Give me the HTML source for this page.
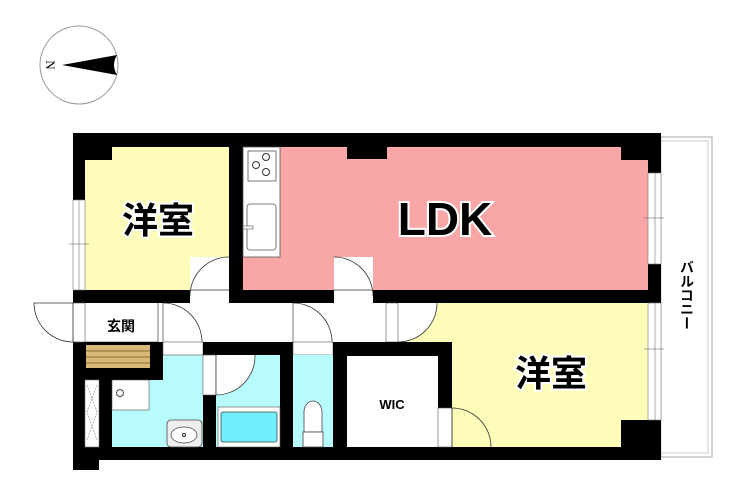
<!DOCTYPE html>
<html><head><meta charset="utf-8"><style>
body{margin:0;background:#fff;}
svg text{font-family:"Liberation Sans","Noto Sans CJK JP",sans-serif;font-weight:bold;}
</style></head><body>
<svg width="740" height="489" viewBox="0 0 740 489" xmlns="http://www.w3.org/2000/svg">
<!-- compass -->
<circle cx="79" cy="65" r="39" fill="#fff" stroke="#999" stroke-width="1"/>
<path d="M62 65 L117 55 Q111 65 117 75 Z" fill="#000"/>
<text x="49" y="65" font-size="13" transform="rotate(90 49 65)" text-anchor="middle" dominant-baseline="middle" style="font-weight:normal;font-family:'Liberation Serif',serif">N</text>
<!-- balcony -->
<rect x="661" y="137" width="51" height="320" fill="#fff" stroke="#aaa"/>
<rect x="661" y="141" width="47" height="312" fill="none" stroke="#ccc"/>
<!-- outer black -->
<rect x="73" y="133" width="588" height="327" fill="#000"/>
<rect x="73" y="455" width="26" height="15" fill="#000"/>
<!-- rooms -->
<rect x="85" y="147" width="144" height="143" fill="#fdfcb8"/>
<rect x="85" y="147" width="27" height="13" fill="#000"/>
<rect x="243" y="147" width="405" height="143" fill="#f8a6a6"/>
<rect x="347" y="147" width="40" height="12" fill="#000"/>
<rect x="621" y="147" width="27" height="13" fill="#000"/>
<!-- kitchen -->
<rect x="243" y="147" width="37" height="110" fill="#fff" stroke="#555" stroke-width="0.8"/>
<rect x="248" y="151" width="28" height="30" fill="#fff" stroke="#555" stroke-width="0.8"/>
<circle cx="256" cy="165" r="3.5" fill="none" stroke="#333"/>
<circle cx="266" cy="157" r="3.5" fill="none" stroke="#333"/>
<circle cx="266" cy="172" r="3.5" fill="none" stroke="#333"/>
<rect x="247" y="204" width="29" height="46" rx="3" fill="#fff" stroke="#555" stroke-width="0.8"/>
<rect x="243" y="226" width="10" height="3" fill="#fff" stroke="#555" stroke-width="0.6"/>
<!-- hallway -->
<rect x="85" y="303" width="355" height="39" fill="#fff"/>
<rect x="73" y="303" width="12" height="39" fill="#fff" stroke="#555" stroke-width="0.6"/>
<path d="M73 303 L73 342 M73 342 A39 39 0 0 1 34 303 L73 303" fill="#fff" stroke="#333" stroke-width="0.8"/>
<line x1="158" y1="303" x2="158" y2="342" stroke="#555" stroke-width="0.8"/>
<line x1="85" y1="342" x2="158" y2="342" stroke="#555" stroke-width="0.8"/>
<!-- lower yellow room -->
<rect x="437" y="303" width="211" height="144" fill="#fdfcb8"/>
<path d="M400 342 L437 342 L437 303 A39 39 0 0 1 400 342 Z" fill="#fdfcb8"/>
<rect x="621" y="420" width="27" height="27" fill="#000"/>
<!-- doors between hall and rooms -->
<rect x="190" y="257" width="39" height="46" fill="#fff"/>
<path d="M229 257 A39 39 0 0 0 190 296 L190 290 M190 290 L229 290" fill="none" stroke="#333" stroke-width="0.8"/>
<rect x="334" y="257" width="39" height="46" fill="#fff"/>
<path d="M334 257 A39 39 0 0 1 373 296 M334 290 L373 290" fill="none" stroke="#333" stroke-width="0.8"/>
<path d="M163 303 A39 39 0 0 1 202 342" fill="none" stroke="#333" stroke-width="0.8"/>
<path d="M293 303 A39 39 0 0 1 332 342" fill="none" stroke="#333" stroke-width="0.8"/>
<line x1="163" y1="303" x2="163" y2="342" stroke="#555" stroke-width="0.8"/>
<line x1="293" y1="303" x2="293" y2="342" stroke="#555" stroke-width="0.8"/>
<rect x="386" y="303" width="12" height="39" fill="#fff" stroke="#555" stroke-width="0.6"/>
<path d="M398 342 A39 39 0 0 0 437 303" fill="none" stroke="#333" stroke-width="0.8"/>
<!-- wet area -->
<rect x="112" y="355" width="91" height="92" fill="#b8fbfd"/>
<rect x="85" y="342" width="78" height="38" fill="#000"/>
<rect x="163" y="342" width="40" height="13" fill="#fff" stroke="#555" stroke-width="0.6"/>
<rect x="86" y="345" width="64" height="23" fill="#d8b878"/>
<line x1="86" y1="351" x2="150" y2="351" stroke="#8a6a30"/>
<line x1="86" y1="357" x2="150" y2="357" stroke="#8a6a30"/>
<line x1="86" y1="363" x2="150" y2="363" stroke="#8a6a30"/>
<rect x="85" y="380" width="14" height="67" fill="#fff" stroke="#777" stroke-width="0.6"/>
<path d="M87 385 L97 412 L87 440 M97 385 L87 412 L97 440" fill="none" stroke="#999" stroke-width="0.7" stroke-dasharray="2 1"/>
<rect x="112" y="380" width="37" height="30" fill="#fff" stroke="#555" stroke-width="0.6"/>
<circle cx="120" cy="393" r="3.5" fill="none" stroke="#444"/>
<rect x="167" y="420" width="35" height="27" rx="4" fill="#eee" stroke="#444" stroke-width="0.8"/>
<ellipse cx="184" cy="435" rx="13" ry="8" fill="#fff" stroke="#444" stroke-width="0.7"/>
<circle cx="184" cy="435" r="1.5" fill="none" stroke="#333"/>
<!-- bath -->
<rect x="203" y="342" width="77" height="13" fill="#000"/>
<rect x="216" y="355" width="64" height="92" fill="#b8fbfd"/>
<rect x="203" y="355" width="13" height="40" fill="#fff" stroke="#555" stroke-width="0.6"/>
<path d="M216 355 L216 395 A39 39 0 0 0 255 355" fill="#fff" stroke="#333" stroke-width="0.8"/>
<rect x="218" y="407" width="62" height="40" fill="#fff" stroke="#555" stroke-width="0.6"/>
<rect x="221" y="412" width="56" height="30" rx="2" fill="#6ff0fc" stroke="#444" stroke-width="0.8"/>
<!-- toilet -->
<rect x="293" y="342" width="40" height="13" fill="#fff" stroke="#555" stroke-width="0.6"/>
<rect x="293" y="355" width="40" height="92" fill="#b8fbfd"/>
<path d="M304 432 L304 412 A9 11 0 0 1 322 412 L322 432 Z" fill="#fff" stroke="#444" stroke-width="0.8"/>
<rect x="303" y="432" width="20" height="15" fill="#fff" stroke="#444" stroke-width="0.8"/>
<!-- WIC -->
<rect x="333" y="342" width="119" height="105" fill="#000"/>
<rect x="347" y="356" width="91" height="91" fill="#fff"/>
<rect x="438" y="408" width="14" height="39" fill="#fff" stroke="#555" stroke-width="0.6"/>
<path d="M452 408 A39 39 0 0 1 491 447 M452 408 L452 447" fill="none" stroke="#333" stroke-width="0.8"/>
<!-- windows -->
<rect x="73" y="200" width="12" height="90" fill="#fff" stroke="#777" stroke-width="0.6"/>
<line x1="79" y1="200" x2="79" y2="290" stroke="#777" stroke-width="0.6"/>
<line x1="69" y1="244" x2="89" y2="244" stroke="#555" stroke-width="0.6"/>
<rect x="648" y="173" width="13" height="91" fill="#fff" stroke="#777" stroke-width="0.6"/>
<line x1="655" y1="173" x2="655" y2="264" stroke="#777" stroke-width="0.6"/>
<line x1="644" y1="218" x2="664" y2="218" stroke="#555" stroke-width="0.6"/>
<rect x="648" y="303" width="13" height="117" fill="#fff" stroke="#777" stroke-width="0.6"/>
<line x1="655" y1="303" x2="655" y2="420" stroke="#777" stroke-width="0.6"/>
<line x1="644" y1="349" x2="664" y2="349" stroke="#555" stroke-width="0.6"/>
<!-- labels -->
<g stroke="#fff" stroke-width="4" paint-order="stroke" fill="#000">
<text x="158" y="233" font-size="36" text-anchor="middle">洋室</text>
<text x="445" y="235" font-size="46" text-anchor="middle">LDK</text>
<text x="551" y="386" font-size="36" text-anchor="middle">洋室</text>
</g>
<text x="121" y="331" font-size="14" text-anchor="middle">玄関</text>
<text x="392" y="409" font-size="13" text-anchor="middle">WIC</text>
<text x="687" y="260" font-size="14" style="writing-mode:vertical-rl" text-anchor="start">バルコニー</text>
</svg>
</body></html>
